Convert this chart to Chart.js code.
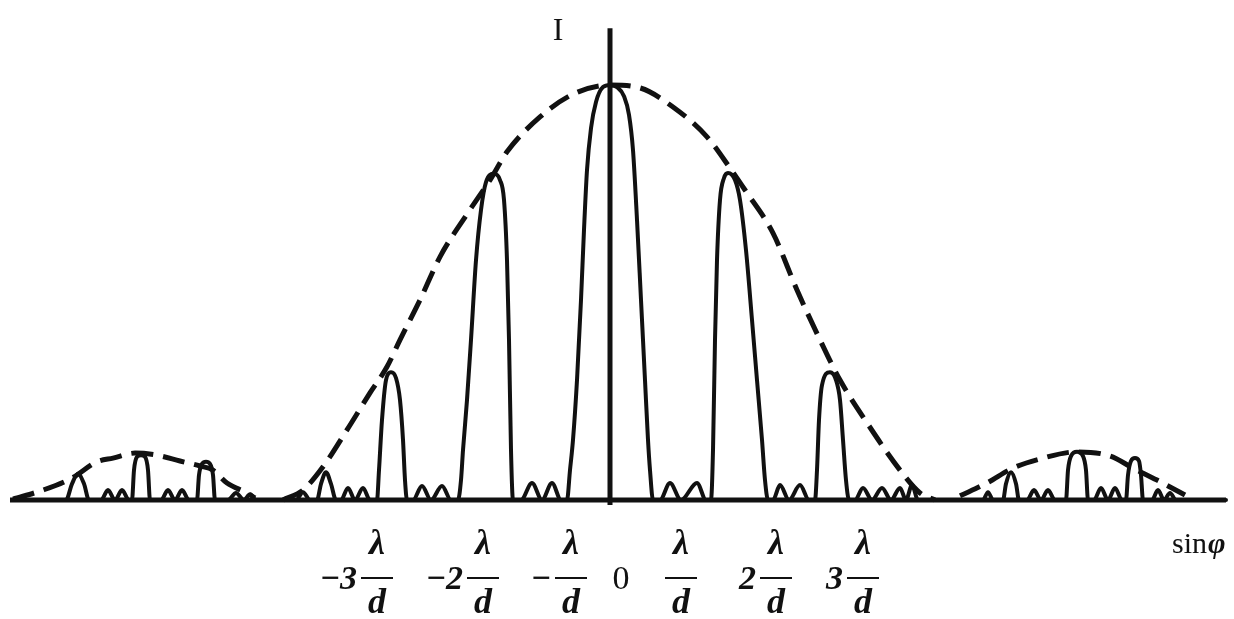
<!DOCTYPE html>
<html>
<head>
<meta charset="utf-8">
<script src="https://cdn.jsdelivr.net/npm/chart.js@4/dist/chart.umd.min.js"></script>
<style>
    html, body { margin: 0; padding: 0; background: #fff; }
    #wrap { width: 1234px; height: 619px; }
</style>
</head>
<body>
<div id="wrap"><canvas id="chart" width="1234" height="619"></canvas></div>
<script>
// sinφ in arbitrary units (0 at the central maximum), I in % of the central maximum

// grating pattern, [sinφ, I]
const leftLobe = [
    [-5.98, 0], [-5.44, 0], [-5.38, 3.9], [-5.32, 6.3], [-5.26, 3.9], [-5.21, 0],
    [-5.09, 0], [-5.02, 2.4], [-4.95, 0], [-4.88, 2.4], [-4.81, 0],
    [-4.78, 0], [-4.76, 7.2], [-4.73, 10.4], [-4.69, 10.8], [-4.65, 10.4], [-4.62, 7.2], [-4.60, 0],
    [-4.49, 0], [-4.42, 2.4], [-4.35, 0], [-4.28, 2.4], [-4.21, 0],
    [-4.13, 0], [-4.11, 6.0], [-4.08, 8.7], [-4.04, 9.2], [-4.00, 8.7], [-3.97, 6.0], [-3.95, 0],
    [-3.82, 0], [-3.74, 1.7], [-3.66, 0], [-3.60, 1.4], [-3.54, 0],
];

const centralGroup = [
    [-3.14, 0], [-3.07, 1.9], [-3.00, 0],
    [-2.93, 0], [-2.89, 3.9], [-2.84, 6.7], [-2.79, 3.9], [-2.74, 0],
    [-2.69, 0], [-2.62, 2.9], [-2.55, 0], [-2.47, 2.9], [-2.40, 0],
    [-2.33, 0], [-2.31, 7.2], [-2.28, 19.3], [-2.24, 28.9], [-2.19, 30.8], [-2.14, 29.4],
    [-2.10, 24.1], [-2.07, 14.5], [-2.05, 4.8], [-2.03, 0],
    [-1.97, 0], [-1.88, 3.4], [-1.79, 0], [-1.68, 3.4], [-1.59, 0],
    [-1.52, 0], [-1.49, 4.8], [-1.47, 12.0], [-1.43, 24.1], [-1.39, 38.6], [-1.34, 57.8],
    [-1.29, 69.9], [-1.24, 76.6], [-1.16, 78.6], [-1.10, 77.1], [-1.06, 72.3], [-1.03, 57.8],
    [-1.01, 38.6], [-0.99, 12.0], [-0.97, 0],
    [-0.89, 0], [-0.78, 4.1], [-0.68, 0], [-0.58, 4.1], [-0.49, 0],
    [-0.43, 0], [-0.40, 7.2], [-0.37, 14.5], [-0.33, 28.9], [-0.29, 48.2], [-0.26, 65.1],
    [-0.23, 79.5], [-0.19, 89.6], [-0.14, 95.9], [-0.07, 99.5], [0, 100],
    [0.07, 99.5], [0.14, 97.3], [0.19, 92.8], [0.23, 84.3], [0.27, 67.5], [0.31, 48.2],
    [0.35, 28.9], [0.38, 14.5], [0.40, 7.2], [0.43, 0],
    [0.50, 0], [0.60, 4.1], [0.71, 0], [0.87, 4.1], [0.96, 0],
    [1.01, 0], [1.03, 12.0], [1.05, 38.6], [1.07, 57.8], [1.10, 72.3], [1.14, 77.6],
    [1.18, 78.8], [1.25, 77.1], [1.30, 72.3], [1.36, 60.2], [1.42, 43.4], [1.47, 28.9],
    [1.52, 14.5], [1.55, 4.8], [1.58, 0],
    [1.63, 0], [1.70, 3.6], [1.79, 0], [1.90, 3.6], [1.99, 0],
    [2.05, 0], [2.07, 7.2], [2.09, 19.3], [2.12, 27.7], [2.20, 30.8], [2.26, 28.9],
    [2.30, 24.1], [2.33, 14.5], [2.36, 4.8], [2.39, 0],
    [2.45, 0], [2.53, 2.9], [2.62, 0], [2.72, 2.9], [2.81, 0], [2.90, 2.9], [2.96, 0],
    [3.02, 3.6], [3.08, 0],
];

const rightLobe = [
    [3.73, 0], [3.78, 1.9], [3.83, 0],
    [3.93, 0], [3.96, 3.9], [4.01, 6.7], [4.06, 3.9], [4.09, 0],
    [4.17, 0], [4.24, 2.4], [4.31, 0], [4.38, 2.4], [4.45, 0],
    [4.56, 0], [4.58, 7.2], [4.61, 10.6], [4.67, 11.6], [4.73, 10.6], [4.76, 7.2], [4.78, 0],
    [4.84, 0], [4.91, 2.9], [4.98, 0], [5.05, 2.9], [5.12, 0],
    [5.16, 0], [5.18, 6.0], [5.21, 9.4], [5.25, 10.1], [5.29, 9.4], [5.31, 6.0], [5.33, 0],
    [5.42, 0], [5.48, 2.4], [5.54, 0], [5.60, 1.7], [5.66, 0],
    [6.16, 0],
];

// single-slit envelope (dashed), [sinφ, I]
const envelopeLeft = [
    [-5.97, 0.2], [-5.67, 2.4], [-5.38, 5.3], [-5.13, 9.2], [-4.97, 10.1], [-4.75, 11.3],
    [-4.53, 10.8], [-4.30, 9.4], [-4.10, 8.2], [-3.97, 7.2], [-3.83, 4.1], [-3.63, 1.7], [-3.55, 0.5],
];

const envelopeMain = [
    [-3.27, 0], [-3.07, 2.4], [-2.87, 8.0], [-2.63, 16.9], [-2.40, 25.8], [-2.23, 32.1],
    [-2.10, 38.6], [-1.90, 48.2], [-1.70, 58.6], [-1.43, 68.9], [-1.20, 77.1], [-1.03, 83.9],
    [-0.70, 92.3], [-0.37, 97.8], [0, 100], [0.30, 99.3], [0.63, 94.7], [0.97, 87.5],
    [1.20, 80.0], [1.35, 74.7], [1.63, 64.3], [1.87, 50.6], [2.10, 38.6], [2.30, 28.9],
    [2.57, 18.6], [2.90, 7.2], [3.10, 1.7], [3.25, 0],
];

const envelopeRight = [
    [3.50, 1.0], [3.77, 4.1], [4.03, 7.7], [4.30, 9.9], [4.67, 11.6], [5.00, 10.6],
    [5.23, 7.7], [5.47, 4.8], [5.75, 1.2],
];

// axis extents
const baselineSpan = [-6.00, 6.16];
const intensityAxisSpan = [-1.2, 113.7];

// tick labels along sinφ: coefficient written before λ/d
const tickValues = [-2.33, -1.27, -0.39, 0.11, 0.71, 1.66, 2.53];
const tickCoefficients = ['−3', '−2', '−', '0', '', '2', '3'];

const toPoints = (pairs) => pairs.map(([x, y]) => ({ x, y }));

const SERIF = "'Liberation Serif', 'DejaVu Serif', serif";
const INK = '#111';

const labelsPlugin = {
    id: 'physicsLabels',
    afterDatasetsDraw(chart) {
        const { ctx, scales } = chart;
        const xs = scales.x;
        const ys = scales.y;
        const base = ys.getPixelForValue(0);
        const axisX = xs.getPixelForValue(0);
        const axisTop = ys.getPixelForValue(intensityAxisSpan[1]);

        ctx.save();
        ctx.fillStyle = INK;
        ctx.strokeStyle = INK;
        ctx.textBaseline = 'middle';

        // I label beside the intensity axis
        ctx.font = `32px ${SERIF}`;
        ctx.textAlign = 'center';
        ctx.fillText('I', axisX - 52, axisTop + 3);

        // sinφ at the end of the horizontal axis
        ctx.textAlign = 'left';
        ctx.textBaseline = 'alphabetic';
        ctx.font = `30px ${SERIF}`;
        const sx = 1172;
        const sy = base + 53;
        ctx.fillText('sin', sx, sy);
        const w = ctx.measureText('sin').width;
        ctx.font = `bold italic 30px ${SERIF}`;
        ctx.fillText('φ', sx + w + 1, sy);

        // λ/d fractions with their coefficients
        ctx.textBaseline = 'middle';
        tickValues.forEach((v, i) => {
            const cx = xs.getPixelForValue(v);
            const coef = tickCoefficients[i];
            if (coef === '0') {
                ctx.font = `34px ${SERIF}`;
                ctx.textAlign = 'center';
                ctx.fillText('0', cx, base + 80);
                return;
            }
            ctx.font = `bold italic 36px ${SERIF}`;
            ctx.textAlign = 'center';
            ctx.fillText('λ', cx, base + 45);
            ctx.fillText('d', cx, base + 104);
            ctx.lineWidth = 2;
            ctx.beginPath();
            ctx.moveTo(cx - 16, base + 78);
            ctx.lineTo(cx + 16, base + 78);
            ctx.stroke();
            if (coef) {
                ctx.font = `bold italic 34px ${SERIF}`;
                ctx.textAlign = 'right';
                ctx.fillText(coef, cx - 20, base + 80);
            }
        });
        ctx.restore();
    },
};

const solidStyle = {
    borderColor: INK,
    borderWidth: 4,
    pointRadius: 0,
    cubicInterpolationMode: 'monotone',
    borderJoinStyle: 'round',
    borderCapStyle: 'round',
    fill: false,
};

const dashedStyle = {
    borderColor: INK,
    borderWidth: 5,
    borderDash: [22, 10],
    pointRadius: 0,
    cubicInterpolationMode: 'monotone',
    fill: false,
};

new Chart(document.getElementById('chart'), {
    type: 'line',
    data: {
        datasets: [
            {
                label: 'baseline',
                data: toPoints([[baselineSpan[0], 0], [baselineSpan[1], 0]]),
                borderColor: INK,
                borderWidth: 5,
                pointRadius: 0,
            },
            {
                label: 'I axis',
                data: toPoints([[0, intensityAxisSpan[0]], [0, intensityAxisSpan[1]]]),
                borderColor: INK,
                borderWidth: 5,
                pointRadius: 0,
            },
            { label: 'pattern', data: toPoints([...leftLobe, ...centralGroup, ...rightLobe]), ...solidStyle },
            { label: 'envelope', data: toPoints(envelopeLeft), ...dashedStyle },
            { label: 'envelope', data: toPoints(envelopeMain), ...dashedStyle },
            { label: 'envelope', data: toPoints(envelopeRight), ...dashedStyle },
        ],
    },
    options: {
        responsive: false,
        animation: false,
        layout: { padding: 0 },
        plugins: {
            legend: { display: false },
            tooltip: { enabled: false },
        },
        scales: {
            x: { type: 'linear', display: false, min: -6.10, max: 6.24 },
            y: { type: 'linear', display: false, min: -28.67, max: 120.48 },
        },
    },
    plugins: [labelsPlugin],
});
</script>
</body>
</html>
